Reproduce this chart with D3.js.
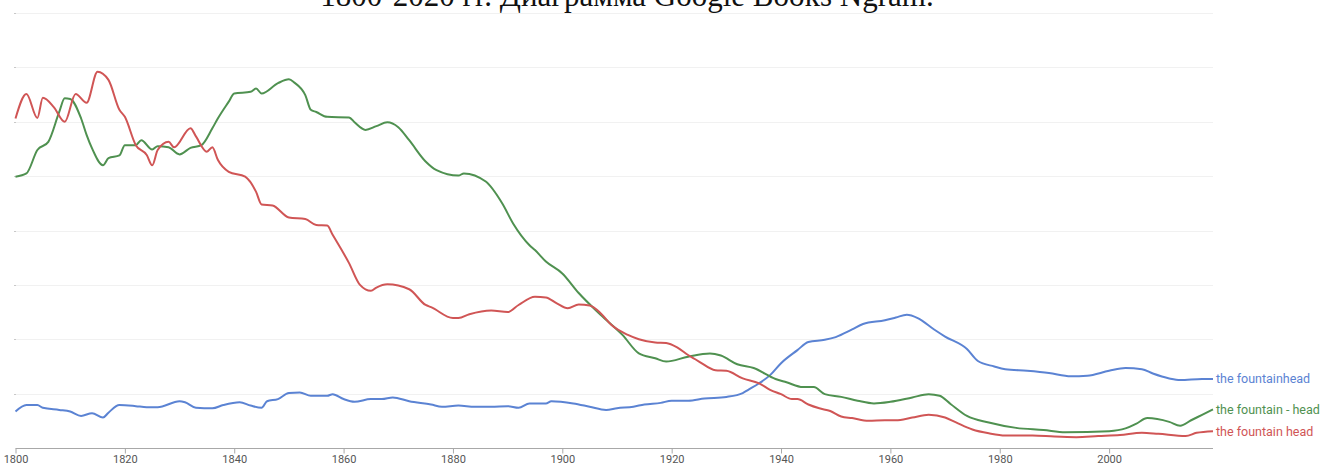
<!DOCTYPE html>
<html>
<head>
<meta charset="utf-8">
<script src="https://cdn.jsdelivr.net/npm/d3@7"></script>
<style>
  body { margin: 0; background: #fff; }
  svg { display: block; }
</style>
</head>
<body>
<div class="canvas"></div>
<script>
// chart data (values in grid units)
const titleText = '1800-2020 гг. Диаграмма Google Books Ngram.';
const seriesNames = ['the fountainhead', 'the fountain - head', 'the fountain head'];
const xTicks = [1800, 1820, 1840, 1860, 1880, 1900, 1920, 1940, 1960, 1980, 2000];
const gridValues = [1, 2, 3, 4, 5, 6, 7, 8];

const blueYears = [1800,1802,1804,1805,1808,1810,1812,1814,1816,1817,1819,1822,1824,1826,1830,1831,1833,1836,1838,1841,1843,1845,1846,1848,1850,1852,1854,1857,1858,1860,1862,1865,1867,1869,1872,1876,1878,1881,1884,1887,1890,1892,1894,1897,1898,1902,1905,1908,1910,1913,1915,1918,1920,1923,1926,1930,1933,1934,1936,1938,1940,1943,1945,1948,1950,1953,1955,1959,1961,1963,1965,1968,1970,1974,1976,1979,1981,1985,1989,1993,1996,2000,2003,2006,2008,2011,2013,2017,2019];
const blueValues = [0.67,0.79,0.79,0.74,0.70,0.67,0.59,0.64,0.56,0.65,0.79,0.77,0.75,0.75,0.86,0.84,0.74,0.73,0.79,0.84,0.78,0.74,0.86,0.90,1.01,1.02,0.96,0.96,0.99,0.90,0.85,0.90,0.90,0.93,0.86,0.80,0.76,0.78,0.76,0.76,0.77,0.74,0.82,0.82,0.86,0.82,0.76,0.70,0.73,0.76,0.80,0.83,0.87,0.87,0.91,0.94,1.01,1.07,1.19,1.34,1.56,1.80,1.95,1.99,2.04,2.18,2.28,2.35,2.40,2.45,2.39,2.18,2.05,1.82,1.60,1.50,1.45,1.42,1.38,1.32,1.33,1.42,1.47,1.45,1.37,1.28,1.25,1.27,1.27];

const greenYears = [1800,1802,1804,1806,1808,1809,1810,1812,1813,1814,1816,1817,1819,1820,1822,1823,1825,1826,1828,1830,1832,1834,1836,1837,1839,1840,1843,1844,1845,1848,1850,1851,1853,1854,1855,1857,1861,1862,1864,1866,1868,1870,1872,1875,1877,1881,1882,1886,1889,1891,1894,1895,1897,1900,1903,1907,1911,1914,1917,1919,1923,1927,1929,1932,1935,1939,1941,1944,1946,1948,1951,1954,1957,1960,1964,1967,1969,1971,1974,1978,1983,1988,1992,2000,2003,2005,2007,2011,2013,2015,2017,2019];
const greenValues = [4.99,5.05,5.48,5.63,6.18,6.43,6.42,6.06,5.76,5.51,5.20,5.33,5.38,5.57,5.57,5.66,5.49,5.55,5.53,5.40,5.52,5.57,5.88,6.06,6.37,6.52,6.55,6.61,6.52,6.71,6.78,6.72,6.49,6.22,6.18,6.09,6.08,5.99,5.85,5.92,5.99,5.90,5.66,5.27,5.11,5.01,5.05,4.90,4.50,4.13,3.73,3.64,3.43,3.21,2.85,2.45,2.08,1.74,1.65,1.59,1.68,1.74,1.70,1.54,1.47,1.27,1.21,1.12,1.12,0.99,0.94,0.87,0.82,0.85,0.93,0.99,0.96,0.81,0.59,0.47,0.37,0.33,0.29,0.31,0.36,0.45,0.55,0.48,0.41,0.51,0.61,0.71];

const redYears = [1800,1802,1804,1805,1807,1809,1811,1813,1815,1817,1819,1820,1822,1824,1825,1826,1828,1829,1832,1833,1835,1836,1837,1839,1842,1844,1845,1847,1850,1853,1855,1857,1858,1861,1863,1865,1866,1868,1872,1875,1876,1880,1881,1883,1887,1890,1892,1895,1897,1899,1901,1903,1905,1907,1909,1912,1914,1917,1919,1921,1923,1925,1928,1930,1933,1936,1938,1940,1942,1943,1945,1947,1949,1951,1953,1956,1959,1961,1964,1967,1970,1972,1975,1978,1981,1986,1990,1994,1998,2002,2006,2009,2014,2016,2019];
const redValues = [6.06,6.51,6.07,6.44,6.27,6.00,6.51,6.35,6.92,6.77,6.22,6.09,5.57,5.39,5.20,5.48,5.63,5.53,5.88,5.73,5.45,5.53,5.30,5.08,4.99,4.71,4.48,4.46,4.24,4.21,4.10,4.09,3.92,3.40,3.00,2.89,2.95,3.01,2.92,2.63,2.59,2.39,2.39,2.46,2.53,2.50,2.63,2.78,2.77,2.66,2.57,2.64,2.62,2.48,2.26,2.08,2.00,1.94,1.93,1.85,1.71,1.59,1.43,1.42,1.28,1.19,1.07,0.99,0.90,0.90,0.80,0.73,0.68,0.58,0.55,0.50,0.51,0.51,0.56,0.61,0.56,0.47,0.34,0.27,0.23,0.23,0.21,0.20,0.22,0.24,0.28,0.26,0.22,0.28,0.31];

const colors = ['#5b83d3', '#4f9150', '#d05555'];

const width = 1322, height = 466;

const svg = d3.select('.canvas')
    .append('svg')
    .attr('width', width)
    .attr('height', height);

// scales
const x = d3.scaleLinear().domain([1800, 2019]).range([15.5, 1213]);
const y = d3.scaleLinear().domain([0, 8]).range([448, 13]);

// gridlines
svg.append('g')
    .selectAll('line')
    .data(gridValues)
    .join('line')
    .attr('x1', x(1800) - 1)
    .attr('x2', x(2019))
    .attr('y1', d => Math.round(y(d)) + 0.5)
    .attr('y2', d => Math.round(y(d)) + 0.5)
    .attr('stroke', '#f1f1f1');

// small left ticks on gridlines
svg.append('g')
    .selectAll('line')
    .data(gridValues)
    .join('line')
    .attr('x1', x(1800) - 1.5)
    .attr('x2', x(1800) + 0.5)
    .attr('y1', d => Math.round(y(d)) + 0.5)
    .attr('y2', d => Math.round(y(d)) + 0.5)
    .attr('stroke', '#c8c8c8');

// x axis
const xAxis = d3.axisBottom(x)
    .tickValues(xTicks)
    .tickSize(5)
    .tickPadding(2)
    .tickFormat(d3.format('d'));

const xAxisGroup = svg.append('g')
    .attr('transform', 'translate(0,' + (Math.round(y(0)) + 0.5) + ')')
    .call(xAxis);

xAxisGroup.select('.domain').attr('stroke', '#a8a8a8').attr('d', `M${x(1800)},0H${x(2019)}`);
xAxisGroup.selectAll('.tick line').attr('stroke', '#a8a8a8');
xAxisGroup.selectAll('text')
    .attr('fill', '#555')
    .style('font-family', 'Roboto, Arial, sans-serif')
    .style('font-size', '11px');

// lines
const series = [
    {name: seriesNames[0], years: blueYears, values: blueValues, color: colors[0]},
    {name: seriesNames[1], years: greenYears, values: greenValues, color: colors[1]},
    {name: seriesNames[2], years: redYears, values: redValues, color: colors[2]}
];

const line = d3.line()
    .x(d => x(d[0]))
    .y(d => y(d[1]))
    .curve(d3.curveMonotoneX);

series.forEach(s => {
    const pts = s.years.map((yr, i) => [yr, s.values[i]]);
    svg.append('path')
        .datum(pts)
        .attr('fill', 'none')
        .attr('stroke', s.color)
        .attr('stroke-width', 2)
        .attr('stroke-linejoin', 'round')
        .attr('d', line);

    // label at line end
    svg.append('text')
        .attr('x', x(2019) + 3)
        .attr('y', y(s.values[s.values.length - 1]))
        .attr('dy', '0.35em')
        .attr('fill', s.color)
        .style('font-family', 'Roboto, Arial, sans-serif')
        .style('font-size', '12.5px')
        .text(s.name);
});

// title, cut off by the top edge
svg.append('text')
    .attr('x', 627)
    .attr('y', 6)
    .attr('text-anchor', 'middle')
    .attr('fill', '#111')
    .style('font-family', '"Liberation Serif", "DejaVu Serif", serif')
    .style('font-size', '31px')
    .text(titleText);
</script>
</body>
</html>
